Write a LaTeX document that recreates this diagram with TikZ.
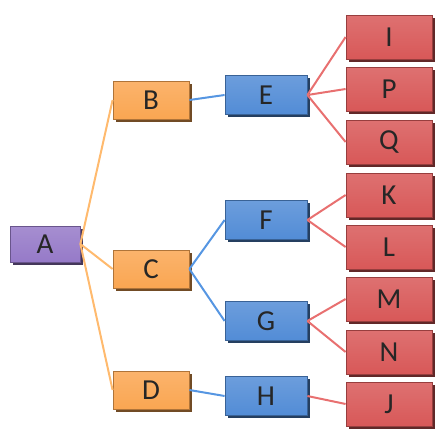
\documentclass[tikz,border=0pt]{standalone}
\usepackage{fontspec}
\setmainfont{Carlito}
\usetikzlibrary{shadows}
\definecolor{purp}{RGB}{150,122,200}
\definecolor{oran}{RGB}{250,166,82}
\definecolor{blu}{RGB}{82,140,214}
\definecolor{redd}{RGB}{216,88,88}
\definecolor{lorange}{RGB}{255,186,110}
\definecolor{lblue}{RGB}{86,150,226}
\definecolor{lred}{RGB}{232,112,112}
\tikzset{
  box/.style={draw=#1!70!black, line width=0.8pt, top color=#1!85!white, bottom color=#1,
    inner sep=0pt, text=black!85, font=\fontsize{29}{34}\selectfont,
    general shadow={fill=#1!45!black, shadow xshift=2.5pt, shadow yshift=-2.5pt}},
  boxa/.style={box=purp, minimum width=70pt, minimum height=36pt},
  boxb/.style={box=oran, minimum width=76pt, minimum height=38pt},
  boxc/.style={box=blu, minimum width=82pt, minimum height=39pt},
  boxd/.style={box=redd, minimum width=86pt, minimum height=44pt},
}
\begin{document}
\begin{tikzpicture}[x=1pt,y=-1pt]
    \useasboundingbox (0,0) rectangle (437,431);
    \node [boxa] (a) at (45,244) {A};
    \node [boxb] (b) at (151,100) {B};
    \node [boxb] (c) at (151,269) {C};
    \node [boxb] (d) at (151,390) {D};
    \node [boxc] (e) at (266,95)  {E};
    \node [boxc] (f) at (266,220) {F};
    \node [boxc] (g) at (266,321) {G};
    \node [boxc] (h) at (266,396) {H};
    \node [boxd] (i) at (389,37)  {I};
    \node [boxd] (p) at (389,89)  {P};
    \node [boxd] (q) at (389,142) {Q};
    \node [boxd] (k) at (389,195) {K};
    \node [boxd] (l) at (389,247) {L};
    \node [boxd] (m) at (389,299) {M};
    \node [boxd] (n) at (389,352) {N};
    \node [boxd] (j) at (389,404) {J};
    \begin{scope}[line width=2pt]
    \draw [lorange] (a.east) -- (b.west);
    \draw [lorange] (a.east) -- (c.west);
    \draw [lorange] (a.east) -- (d.west);
    \draw [lblue] (b.east) -- (e.west);
    \draw [lblue] (c.east) -- (f.west);
    \draw [lblue] (c.east) -- (g.west);
    \draw [lblue] (d.east) -- (h.west);
    \draw [lred] (e.east) -- (i.west);
    \draw [lred] (e.east) -- (p.west);
    \draw [lred] (e.east) -- (q.west);
    \draw [lred] (f.east) -- (k.west);
    \draw [lred] (f.east) -- (l.west);
    \draw [lred] (g.east) -- (m.west);
    \draw [lred] (g.east) -- (n.west);
    \draw [lred] (h.east) -- (j.west);
    \end{scope}
\end{tikzpicture}
\end{document}
